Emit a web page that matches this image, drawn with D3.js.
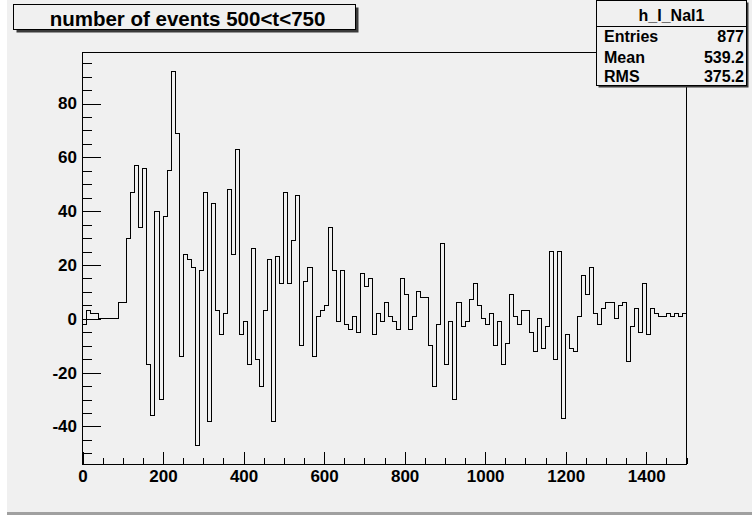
<!DOCTYPE html>
<html>
<head>
<meta charset="utf-8">
<script src="https://cdn.jsdelivr.net/npm/d3@7"></script>
<style>
  html, body { margin: 0; padding: 0; background: #ffffff; }
  svg { display: block; }
  text { font-family: "Liberation Sans", Arial, Helvetica, sans-serif; font-weight: bold; }
</style>
</head>
<body>
<svg id="chart" width="752" height="515"></svg>
<script>
// Histogram h_I_NaI1: 150 bins of width 10 over t in [0, 1500]
const histTitle = "number of events 500<t<750";
const histName = "h_I_NaI1";
const binStart = 0;
const binWidth = 10;
const binContents = [
  -2, 3, 2, 2, 0, 0, 0, 0, 0, 6,
   6, 30, 47, 57, 34, 56, -17, -36, 40, -30,
  38, 55, 92, 69, -14, 24, 22, 19, -47, 18,
  47, -38, 43, 3, -6, 2, 48, 24, 63, -6,
  -1, -17, 26, -15, -25, 3, 22, -38, 23, 13,
  47, 13, 29, 46, -10, 14, 19, -14, 1, 3,
   5, 34, 18, -1, 18, -2, -4, 1, -5, 17,
  12, 15, -6, 2, -1, 6, 1, -1, -4, 15,
   9, -4, 1, 10, 8, 8, -10, -25, -2, 28,
 -17, -1, -30, 6, -3, -1, 7, 13, 5, 0,
  -2, 2, -10, -1, -17, -9, 9, 1, -2, 3,
   3, -5, -12, 0, -11, -3, 25, -15, 25, -37,
  -6, -11, -12, 1, 16, 9, 19, 2, -2, 4,
   6, 6, 0, 5, 6, -16, -3, 4, -5, 13,
  -6, 4, 2, 1, 1, 2, 1, 2, 1, 2
];
const xMajorTicks = [0, 200, 400, 600, 800, 1000, 1200, 1400];
const xMinorTicks = d3.range(0, 1501, 50);
const yMajorTicks = [-40, -20, 0, 20, 40, 60, 80];
const yMinorTicks = d3.range(-50, 96, 5);
const statNames = ["Entries", "Mean", "RMS"];
const statValues = ["877", "539.2", "375.2"];

const svg = d3.select("#chart");
const bg = "#f0f0f0";

// Canvas with bevelled edges
svg.append("rect").attr("x", 0).attr("y", 0).attr("width", 752).attr("height", 515).attr("fill", "#ffffff");
svg.append("rect").attr("x", 7).attr("y", 0).attr("width", 745).attr("height", 513).attr("fill", bg);
svg.append("rect").attr("x", 7).attr("y", 512).attr("width", 745).attr("height", 3).attr("fill", "#a0a0a0");

const frame = { left: 82.5, right: 686.5, top: 52.5, bottom: 464 };

const nBins = binContents.length;
const xMax = binStart + nBins * binWidth;
const yMin = d3.min(binContents), yMax = d3.max(binContents);
const yPad = 0.05 * (yMax - yMin);

const x = d3.scaleLinear().domain([binStart, xMax]).range([frame.left, frame.right]);
const y = d3.scaleLinear().domain([yMin - yPad, yMax + yPad]).range([frame.bottom, frame.top]);

// Frame
svg.append("rect")
  .attr("x", frame.left).attr("y", frame.top)
  .attr("width", frame.right - frame.left).attr("height", frame.bottom - frame.top)
  .attr("fill", bg).attr("stroke", "#000").attr("stroke-width", 1)
  .attr("shape-rendering", "crispEdges");

// Step outline of the histogram
const bins = binContents.map((v, i) => ({ x0: binStart + i * binWidth, x1: binStart + (i + 1) * binWidth, v }));
let d = "M" + x(bins[0].x0) + "," + y(bins[0].v);
bins.forEach((b, i) => {
  if (i > 0) d += "V" + y(b.v);
  d += "H" + x(b.x1);
});
svg.append("path").attr("d", d).attr("fill", "none").attr("stroke", "#000")
  .attr("stroke-width", 1).attr("shape-rendering", "crispEdges");

// Axes (plain hyphen for negative labels)
const fontSize = 17;
const plain = v => String(v);
const xMinorAxis = d3.axisBottom(x).tickValues(xMinorTicks).tickSizeInner(-6.2).tickSizeOuter(0).tickFormat("");
const xMajorAxis = d3.axisBottom(x).tickValues(xMajorTicks).tickSizeInner(-12.4).tickSizeOuter(0).tickPadding(6).tickFormat(plain);
const yMinorAxis = d3.axisLeft(y).tickValues(yMinorTicks).tickSizeInner(-9).tickSizeOuter(0).tickFormat("");
const yMajorAxis = d3.axisLeft(y).tickValues(yMajorTicks).tickSizeInner(-18).tickSizeOuter(0).tickPadding(5.5).tickFormat(plain);

function styleAxis(g) {
  g.select(".domain").remove();
  g.selectAll("line").attr("stroke", "#000").attr("shape-rendering", "crispEdges");
  g.selectAll("text").attr("fill", "#000").style("font-size", fontSize + "px")
    .style("font-family", "'Liberation Sans', Arial, sans-serif").style("font-weight", "bold");
}

svg.append("g").attr("transform", `translate(0,${frame.bottom})`).call(xMinorAxis).call(styleAxis);
svg.append("g").attr("transform", `translate(0,${frame.bottom})`).call(xMajorAxis).call(styleAxis);
svg.append("g").attr("transform", `translate(${frame.left},0)`).call(yMinorAxis).call(styleAxis);
svg.append("g").attr("transform", `translate(${frame.left},0)`).call(yMajorAxis).call(styleAxis);

// Title box
const tb = { x: 13.5, y: 4.5, w: 342, h: 25 };
svg.append("rect").attr("x", tb.x + 3).attr("y", tb.y + 3).attr("width", tb.w).attr("height", tb.h).attr("fill", "#3a3a3a");
svg.append("rect").attr("x", tb.x).attr("y", tb.y).attr("width", tb.w).attr("height", tb.h)
  .attr("fill", bg).attr("stroke", "#000").attr("stroke-width", 1);
svg.append("text").attr("x", tb.x + tb.w / 2 + 3).attr("y", 26)
  .attr("text-anchor", "middle").style("font-size", "20.5px").attr("fill", "#000")
  .text(histTitle);

// Statistics box
const sb = { x: 596.5, y: 0.5, w: 150, h: 85 };
svg.append("rect").attr("x", sb.x + 2).attr("y", sb.y + 2).attr("width", sb.w).attr("height", sb.h).attr("fill", "#3a3a3a");
svg.append("rect").attr("x", sb.x).attr("y", sb.y).attr("width", sb.w).attr("height", sb.h)
  .attr("fill", bg).attr("stroke", "#000").attr("stroke-width", 1);
svg.append("line").attr("x1", sb.x).attr("x2", sb.x + sb.w).attr("y1", 26.5).attr("y2", 26.5)
  .attr("stroke", "#000").attr("stroke-width", 1);
svg.append("text").attr("x", sb.x + sb.w / 2).attr("y", 20.5).attr("text-anchor", "middle")
  .style("font-size", "16px").attr("fill", "#000").text(histName);
const rowBase = [41.5, 63, 81.5];
statNames.forEach((nm, i) => {
  svg.append("text").attr("x", 604).attr("y", rowBase[i]).style("font-size", "16px").attr("fill", "#000").text(nm);
  svg.append("text").attr("x", 744).attr("y", rowBase[i]).attr("text-anchor", "end").style("font-size", "16px").attr("fill", "#000").text(statValues[i]);
});
</script>
</body>
</html>
